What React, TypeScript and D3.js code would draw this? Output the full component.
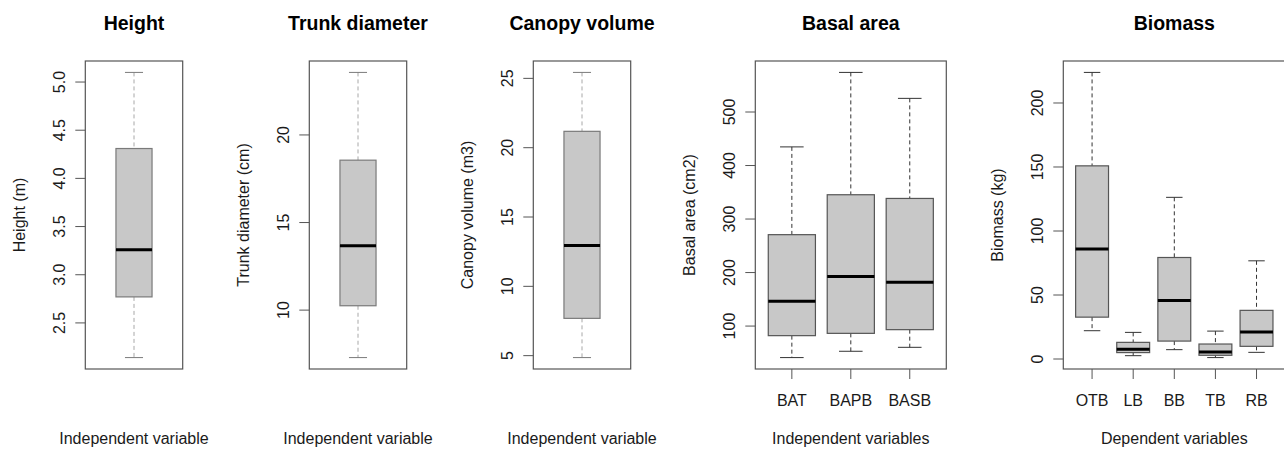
import React from 'react';
import * as d3 from 'd3';

// five-number summaries: [lower whisker, Q1, median, Q3, upper whisker]
const heightBox = [[2.14, 2.77, 3.26, 4.31, 5.1]];
const heightTicks = [2.5, 3.0, 3.5, 4.0, 4.5, 5.0];

const trunkBox = [[7.29, 10.25, 13.68, 18.56, 23.57]];
const trunkTicks = [10, 15, 20];

const canopyBox = [[4.86, 7.69, 12.95, 21.18, 25.43]];
const canopyTicks = [5, 10, 15, 20, 25];

const basalCategories = ['BAT', 'BAPB', 'BASB'];
const basalBoxes = [
  [41.1, 82.1, 146.6, 270.8, 434.8],
  [52.9, 86.4, 192.6, 345.4, 574.0],
  [60.3, 93.3, 182.0, 338.5, 525.5],
];
const basalTicks = [100, 200, 300, 400, 500];

const biomassCategories = ['OTB', 'LB', 'BB', 'TB', 'RB'];
const biomassBoxes = [
  [22.1, 32.7, 86.0, 150.9, 223.9],
  [2.6, 5.0, 7.6, 13.0, 20.8],
  [7.3, 14.0, 45.7, 79.3, 126.3],
  [1.1, 2.9, 5.5, 11.7, 21.8],
  [5.2, 9.9, 21.0, 38.0, 76.7],
];
const biomassTicks = [0, 50, 100, 150, 200];

const FONT = 'Arial, "Liberation Sans", Helvetica, sans-serif';
const TOP = 61;
const BOTTOM = 369;

interface PanelProps {
  title: string;
  yLabel: string;
  xLabel: string;
  boxes: number[][];
  ticks: number[];
  tickFmt: (v: number) => string;
  categories?: string[];
  left: number;
  right: number;
  light?: boolean;
}

function Panel({ title, yLabel, xLabel, boxes, ticks, tickFmt, categories, left, right, light }: PanelProps) {
  const n = boxes.length;
  const lo = d3.min(boxes, b => b[0]) as number;
  const hi = d3.max(boxes, b => b[4]) as number;
  const pad = (hi - lo) * 0.04;
  const y = d3.scaleLinear().domain([lo - pad, hi + pad]).range([BOTTOM, TOP]);
  const xPad = n * 0.04;
  const x = d3.scaleLinear().domain([0.5 - xPad, n + 0.5 + xPad]).range([left, right]);
  const boxW = n === 1 ? 0.4 : 0.8;
  const cx = (left + right) / 2;

  const boxStroke = light ? '#7a7a7a' : '#555';
  const whiskerStroke = light ? '#a8a8a8' : '#333';
  const capStroke = light ? '#7a7a7a' : '#333';

  return (
    <g>
      <text x={cx} y={23} textAnchor="middle" dominantBaseline="central"
        fontSize={19.5} fontWeight="bold" fontFamily={FONT} fill="#000">{title}</text>

      {boxes.map((b, i) => {
        const px = x(i + 1);
        const half = (x(boxW / 2) - x(0));
        const capHalf = half / 2;
        return (
          <g key={i}>
            <line x1={px} x2={px} y1={y(b[4])} y2={y(b[3])} stroke={whiskerStroke} strokeDasharray="4,3" />
            <line x1={px} x2={px} y1={y(b[1])} y2={y(b[0])} stroke={whiskerStroke} strokeDasharray="4,3" />
            <line x1={px - capHalf} x2={px + capHalf} y1={y(b[4])} y2={y(b[4])} stroke={capStroke} />
            <line x1={px - capHalf} x2={px + capHalf} y1={y(b[0])} y2={y(b[0])} stroke={capStroke} />
            <rect x={px - half} width={half * 2} y={y(b[3])} height={y(b[1]) - y(b[3])}
              fill="#c8c8c8" stroke={boxStroke} strokeWidth={1.2} />
            <line x1={px - half} x2={px + half} y1={y(b[2])} y2={y(b[2])} stroke="#000" strokeWidth={3} />
          </g>
        );
      })}

      <rect x={left} y={TOP} width={right - left} height={BOTTOM - TOP} fill="none" stroke="#555" strokeWidth={1.2} />

      {ticks.map(t => (
        <g key={t}>
          <line x1={left - 10} x2={left} y1={y(t)} y2={y(t)} stroke="#555" />
          <text transform={`translate(${left - 26},${y(t)}) rotate(-90)`} textAnchor="middle"
            dominantBaseline="central" fontSize={16} fontFamily={FONT} fill="#1a1a1a">{tickFmt(t)}</text>
        </g>
      ))}

      {categories && categories.map((c, i) => (
        <g key={c}>
          <line x1={x(i + 1)} x2={x(i + 1)} y1={BOTTOM} y2={BOTTOM + 10} stroke="#555" />
          <text x={x(i + 1)} y={400} textAnchor="middle" dominantBaseline="central"
            fontSize={16} fontFamily={FONT} fill="#1a1a1a">{c}</text>
        </g>
      ))}

      <text transform={`translate(${left - 66},${(TOP + BOTTOM) / 2}) rotate(-90)`} textAnchor="middle"
        dominantBaseline="central" fontSize={16} fontFamily={FONT} fill="#1a1a1a">{yLabel}</text>
      <text x={cx} y={438} textAnchor="middle" dominantBaseline="central"
        fontSize={16} fontFamily={FONT} fill="#1a1a1a">{xLabel}</text>
    </g>
  );
}

export default function App() {
  const int = d3.format('d');
  const one = d3.format('.1f');
  return (
    <div style={{ position: 'absolute', left: 0, top: 0 }}>
      <svg width={1284} height={450} style={{ display: 'block', background: '#fff' }}>
        <Panel title="Height" yLabel="Height (m)" xLabel="Independent variable"
          boxes={heightBox} ticks={heightTicks} tickFmt={one} left={85.3} right={182.7} light />
        <Panel title="Trunk diameter" yLabel="Trunk diameter (cm)" xLabel="Independent variable"
          boxes={trunkBox} ticks={trunkTicks} tickFmt={int} left={309.3} right={406.7} light />
        <Panel title="Canopy volume" yLabel="Canopy volume (m3)" xLabel="Independent variable"
          boxes={canopyBox} ticks={canopyTicks} tickFmt={int} left={533.3} right={630.7} light />
        <Panel title="Basal area" yLabel="Basal area (cm2)" xLabel="Independent variables"
          boxes={basalBoxes} ticks={basalTicks} tickFmt={int} categories={basalCategories}
          left={755.3} right={946.3} />
        <Panel title="Biomass" yLabel="Biomass (kg)" xLabel="Dependent variables"
          boxes={biomassBoxes} ticks={biomassTicks} tickFmt={int} categories={biomassCategories}
          left={1063.3} right={1285.3} />
      </svg>
    </div>
  );
}
